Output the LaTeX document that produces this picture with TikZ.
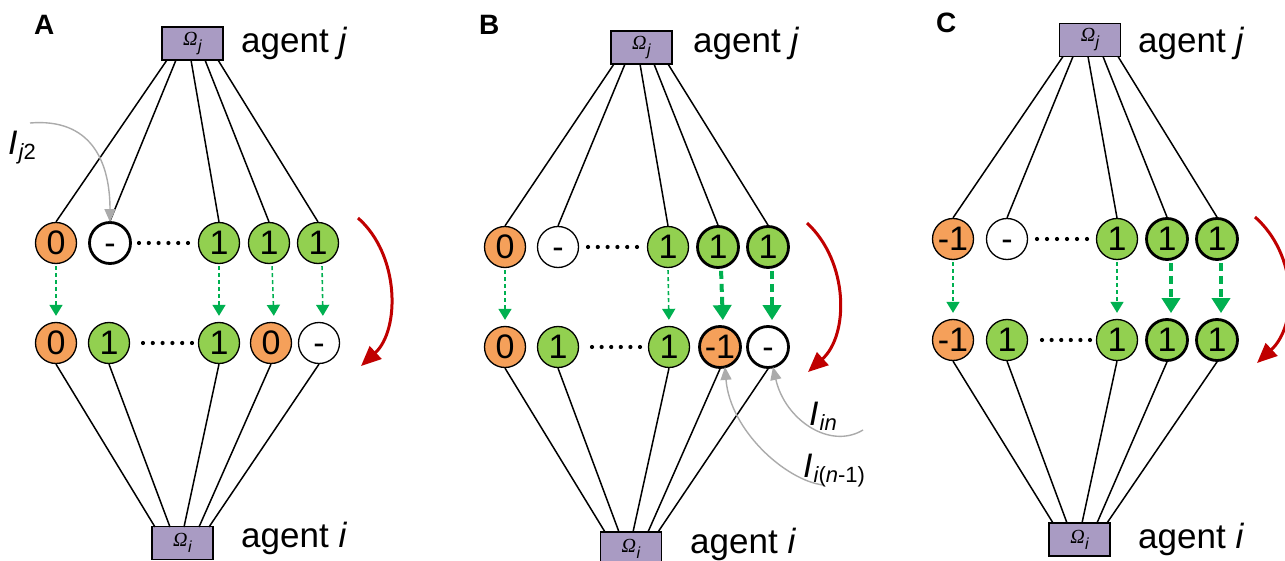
\documentclass[tikz,border=0pt]{standalone}
\usepackage{fontspec}
\setmainfont{Liberation Sans}
\newfontfamily\tnr{Liberation Serif}
\newfontfamily\arl{Liberation Sans}
\usetikzlibrary{arrows.meta}
\definecolor{orng}{HTML}{F5A05A}
\definecolor{grn}{HTML}{92D050}
\definecolor{purp}{HTML}{A99BC3}
\definecolor{agrn}{HTML}{00B050}
\definecolor{dred}{HTML}{C00000}
\definecolor{gry}{HTML}{ABABAB}
\newcommand{\om}[1]{{\fontsize{20}{20}\selectfont\tnr\itshape Ω\kern0.5pt\raisebox{-6pt}{\fontsize{16}{16}\selectfont\arl\itshape #1}}}
\newcommand{\Ilab}[1]{{\fontsize{34}{34}\selectfont\itshape I\kern1pt\raisebox{-5pt}{\fontsize{22}{22}\selectfont #1}}}
\newcommand{\dsh}{\vphantom{0}-}
\begin{document}
\begin{tikzpicture}[x=1pt,y=-1pt,
  cir/.style={circle,draw,line width=1.3pt,minimum size=41pt,inner sep=0pt,font=\fontsize{34}{34}\selectfont},
  oc/.style={cir,fill=orng},
  gc/.style={cir,fill=grn},
  wc/.style={cir,fill=white},
  thk/.style={line width=2.8pt},
  abox/.style={draw,fill=purp,line width=1.4pt,minimum width=61pt,minimum height=33pt,inner sep=0pt},
  lnk/.style={line width=1.5pt},
  ga/.style={agrn,line width=1.6pt,dash pattern=on 4pt off 3pt,shorten <=2pt,shorten >=6pt,-{Triangle[width=13pt,length=11pt]}},
  gA/.style={agrn,line width=4pt,dash pattern=on 8pt off 5pt,shorten <=2pt,shorten >=5pt,-{Triangle[width=18pt,length=15pt]}},
  rarc/.style={dred,line width=3pt,-{Triangle[width=17pt,length=20pt]}},
  garr/.style={gry,line width=1.4pt,-{Triangle[width=11pt,length=13pt]}},
  lab/.style={font=\fontsize{28}{28}\selectfont\bfseries,anchor=base west,inner sep=0pt},
  agt/.style={font=\fontsize{35}{35}\selectfont,anchor=base west,inner sep=0pt},
  dot/.style={circle,fill=black,inner sep=0pt,minimum size=4.2pt}
]
\fill[white] (0,0) rectangle (1285,561);
\useasboundingbox (0,0) rectangle (1285,561);

% ---------------- Panel A ----------------
\node[lab] (LA) at (34,35) {A};
\node[abox] (Aj) at (192.5,43.5) {\om{j}};
\node[abox] (Ai) at (182.5,543) {\om{i}};
\node[agt] (tAj) at (241,53) {agent \textit{j}};
\node[agt] (tAi) at (241,547) {agent \textit{i}};

\node[oc] (A1) at (56,243) {0};
\node[wc,thk] (A2) at (110,243) {\dsh};
\node[gc] (A3) at (219,243) {1};
\node[gc] (A4) at (269,243) {1};
\node[gc] (A5) at (318,243) {1};
\node[oc] (a1) at (56,343) {0};
\node[gc] (a2) at (109,343) {1};
\node[gc] (a3) at (219,343) {1};
\node[oc] (a4) at (271,343) {0};
\node[wc] (a5) at (319,343) {\dsh};
\foreach \x in {139,148.8,158.6,168.4,178.2,188} \node[dot] at (\x,243) {};
\foreach \x in {143,152.8,162.6,172.4,182.2,192} \node[dot] at (\x,343) {};

\coordinate (At1) at (167,60); \coordinate (At2) at (176,60); \coordinate (At3) at (191,60);
\coordinate (At4) at (205,60); \coordinate (At5) at (218,60);
\coordinate (Ab1) at (155,527); \coordinate (Ab2) at (170,527); \coordinate (Ab3) at (184,527);
\coordinate (Ab4) at (199,527); \coordinate (Ab5) at (209,527);
\draw[lnk] (At1) -- (A1.north); \draw[lnk] (At2) -- (A2.north); \draw[lnk] (At3) -- (A3.north);
\draw[lnk] (At4) -- (A4.north); \draw[lnk] (At5) -- (A5.north);
\draw[lnk] (a1.south) -- (Ab1); \draw[lnk] (a2.south) -- (Ab2); \draw[lnk] (a3.south) -- (Ab3);
\draw[lnk] (a4.south) -- (Ab4); \draw[lnk] (a5.south) -- (Ab5);

\draw[ga] (A1.south) -- (a1.north);
\draw[ga] (A3.south) -- (a3.north);
\draw[ga] ([xshift=3pt]A4.south) -- ([xshift=3pt]a4.north);
\draw[ga] ([xshift=4pt]A5.south) -- ([xshift=4pt]a5.north);

\coordinate (Ar1) at (358,218); \coordinate (Ar2) at (361,366);
\draw[rarc] (Ar1) .. controls (400,255) and (400,330) .. (Ar2);

\coordinate (Ij2s) at (30,123);
\draw[garr] (Ij2s) .. controls (90,118) and (110,160) .. ([yshift=-1pt]A2.north);
\node[anchor=base west,inner sep=0pt] (Ij2) at (8,155) {\Ilab{\itshape j\upshape 2}};

% ---------------- Panel B ----------------
\node[lab] (LB) at (479,35) {B};
\node[abox] (Bj) at (641.5,47.5) {\om{j}};
\node[abox] (Bi) at (631,548.5) {\om{i}};
\node[agt] (tBj) at (693,53) {agent \textit{j}};
\node[agt] (tBi) at (690,553) {agent \textit{i}};

\node[oc] (B1) at (505,247) {0};
\node[wc] (B2) at (558,247) {\dsh};
\node[gc] (B3) at (668,247) {1};
\node[gc,thk] (B4) at (718,247) {1};
\node[gc,thk] (B5) at (768,247) {1};
\node[oc] (b1) at (505,347) {0};
\node[gc] (b2) at (558,347) {1};
\node[gc] (b3) at (669,347) {1};
\node[oc,thk] (b4) at (720,347) {-1};
\node[wc,thk] (b5) at (768,347) {\dsh};
\foreach \x in {588,597.8,607.6,617.4,627.2,637} \node[dot] at (\x,247) {};
\foreach \x in {592,601.6,611.2,620.8,630.4,640} \node[dot] at (\x,347) {};

\coordinate (Bt1) at (614,64); \coordinate (Bt2) at (625,64); \coordinate (Bt3) at (640,64);
\coordinate (Bt4) at (654,64); \coordinate (Bt5) at (668,64);
\coordinate (Bb1) at (605,532); \coordinate (Bb2) at (619,532); \coordinate (Bb3) at (633,532);
\coordinate (Bb4) at (648,532); \coordinate (Bb5) at (658,532);
\draw[lnk] (Bt1) -- (B1.north); \draw[lnk] (Bt2) -- (B2.north); \draw[lnk] (Bt3) -- (B3.north);
\draw[lnk] (Bt4) -- (B4.north); \draw[lnk] (Bt5) -- (B5.north);
\draw[lnk] (b1.south) -- (Bb1); \draw[lnk] (b2.south) -- (Bb2); \draw[lnk] (b3.south) -- (Bb3);
\draw[lnk] (b4.south) -- (Bb4); \draw[lnk] (b5.south) -- (Bb5);

\draw[ga] (B1.south) -- (b1.north);
\draw[ga] (B3.south) -- (b3.north);
\draw[gA] ([xshift=3pt]B4.south) -- ([xshift=3pt]b4.north);
\draw[gA] ([xshift=4pt]B5.south) -- ([xshift=4pt]b5.north);

\coordinate (Br1) at (807,223); \coordinate (Br2) at (808,372);
\draw[rarc] (Br1) .. controls (849,262) and (849,335) .. (Br2);

\coordinate (Iins) at (863,430);
\draw[garr] (Iins) .. controls (830,450) and (785,420) .. ([xshift=5pt,yshift=2pt]b5.south);
\coordinate (Iin1s) at (823,485);
\draw[garr] (Iin1s) .. controls (785,480) and (730,430) .. ([xshift=5pt,yshift=2pt]b4.south);
\node[anchor=base west,inner sep=0pt] (Iin) at (809,425) {\Ilab{\itshape in}};
\node[anchor=base west,inner sep=0pt] (Iin1) at (803,477) {\Ilab{\itshape i\upshape(\itshape n\upshape-1)}};

% ---------------- Panel C ----------------
\node[lab] (LC) at (936,33) {C};
\node[abox] (Cj) at (1090,40) {\om{j}};
\node[abox] (Ci) at (1079.5,539.5) {\om{i}};
\node[agt] (tCj) at (1138,53) {agent \textit{j}};
\node[agt] (tCi) at (1138,548) {agent \textit{i}};

\node[oc] (C1) at (953,239) {-1};
\node[wc] (C2) at (1007,239) {\dsh};
\node[gc] (C3) at (1117,239) {1};
\node[gc,thk] (C4) at (1167,239) {1};
\node[gc,thk] (C5) at (1217,239) {1};
\node[oc] (c1) at (953,340) {-1};
\node[gc] (c2) at (1007,340) {1};
\node[gc] (c3) at (1117,340) {1};
\node[gc,thk] (c4) at (1167,340) {1};
\node[gc,thk] (c5) at (1217,340) {1};
\foreach \x in {1037,1047,1057,1067,1077,1087} \node[dot] at (\x,239) {};
\foreach \x in {1042,1051.6,1061.2,1070.8,1080.4,1090} \node[dot] at (\x,340) {};

\coordinate (Ct1) at (1063,56.5); \coordinate (Ct2) at (1073,56.5); \coordinate (Ct3) at (1088,56.5);
\coordinate (Ct4) at (1103,56.5); \coordinate (Ct5) at (1118,56.5);
\coordinate (Cb1) at (1053,523); \coordinate (Cb2) at (1067,523); \coordinate (Cb3) at (1082,523);
\coordinate (Cb4) at (1097,523); \coordinate (Cb5) at (1107,523);
\draw[lnk] (Ct1) -- (C1.north); \draw[lnk] (Ct2) -- (C2.north); \draw[lnk] (Ct3) -- (C3.north);
\draw[lnk] (Ct4) -- (C4.north); \draw[lnk] (Ct5) -- (C5.north);
\draw[lnk] (c1.south) -- (Cb1); \draw[lnk] (c2.south) -- (Cb2); \draw[lnk] (c3.south) -- (Cb3);
\draw[lnk] (c4.south) -- (Cb4); \draw[lnk] (c5.south) -- (Cb5);

\draw[ga] (C1.south) -- (c1.north);
\draw[ga] (C3.south) -- (c3.north);
\draw[gA] ([xshift=4pt]C4.south) -- ([xshift=4pt]c4.north);
\draw[gA] ([xshift=4pt]C5.south) -- ([xshift=4pt]c5.north);

\coordinate (Cr1) at (1255,217); \coordinate (Cr2) at (1257,363);
\draw[rarc] (Cr1) .. controls (1298,255) and (1298,325) .. (Cr2);
\end{tikzpicture}
\end{document}
